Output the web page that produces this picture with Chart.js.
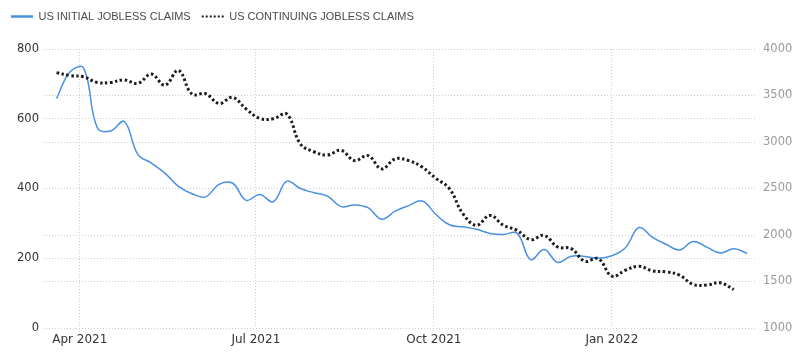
<!DOCTYPE html>
<html><head><meta charset="utf-8">
<script src="https://cdn.jsdelivr.net/npm/chart.js@4.4.1/dist/chart.umd.min.js"></script>
<style>html,body{margin:0;padding:0;background:#fff}#wrap{width:800px;height:357px;position:relative}</style>
</head><body><div id="wrap"><canvas id="c" width="800" height="357"></canvas></div>
<script>
// ---- data ----
const weekEnding = [
 '2021-03-20','2021-03-27','2021-04-03','2021-04-10','2021-04-17','2021-04-24',
 '2021-05-01','2021-05-08','2021-05-15','2021-05-22','2021-05-29',
 '2021-06-05','2021-06-12','2021-06-19','2021-06-26',
 '2021-07-03','2021-07-10','2021-07-17','2021-07-24','2021-07-31',
 '2021-08-07','2021-08-14','2021-08-21','2021-08-28',
 '2021-09-04','2021-09-11','2021-09-18','2021-09-25',
 '2021-10-02','2021-10-09','2021-10-16','2021-10-23','2021-10-30',
 '2021-11-06','2021-11-13','2021-11-20','2021-11-27',
 '2021-12-04','2021-12-11','2021-12-18','2021-12-25',
 '2022-01-01','2022-01-08','2022-01-15','2022-01-22','2022-01-29',
 '2022-02-05','2022-02-12','2022-02-19','2022-02-26',
 '2022-03-05','2022-03-12'
];
const initialClaims = [
 658,735,745,575,565,592,
 498,473,444,406,385,
 376,412,415,366,
 383,362,421,400,388,
 378,348,353,345,
 312,335,351,364,
 326,296,290,283,271,
 268,272,196,225,
 188,206,205,200,
 207,230,288,260,240,
 224,248,232,215,
 227,214
];
const continuingClaims = [
 3746,3715,3700,3640,3640,3668,
 3630,3730,3610,3770,3515,
 3520,3414,3480,3354,
 3254,3250,3300,2980,2895,
 2860,2910,2800,2854,
 2711,2818,2800,2730,
 2610,2500,2229,2104,2211,
 2104,2050,1950,1996,
 1871,1854,1718,1746,
 1557,1621,1664,1614,1604,
 1568,1468,1461,1486,
 1414
];
const seriesNames = ['US INITIAL JOBLESS CLAIMS','US CONTINUING JOBLESS CLAIMS'];
const xTickDates = ['2021-04-01','2021-07-01','2021-10-01','2022-01-01'];
const xTickLabels = ['Apr 2021','Jul 2021','Oct 2021','Jan 2022'];
const xRange = ['2021-03-13','2022-03-17'];
const leftRange = [0,800];
const leftStep = 200;
const rightRange = [1000,4000];
const rightStep = 500;

// ---- helpers ----
const DAY = 86400000;
const BASE = Date.UTC(2021,3,1);
function dayNum(s){const p=s.split('-').map(Number);return (Date.UTC(p[0],p[1]-1,p[2])-BASE)/DAY;}

const initialPts = initialClaims.map((v,i)=>({x:dayNum(weekEnding[i]),y:v}));
const continuingPts = continuingClaims.map((v,i)=>({x:dayNum(weekEnding[i]),y:v}));
const tickDays = xTickDates.map(dayNum);

const gridStyle = {color:'#cfcfcf', lineWidth:1, drawTicks:false};
const dash = [1,2];

const legendGap = {
  id:'legendGap',
  beforeInit(chart){
    const lg = chart.legend;
    if(!lg) return;
    const fit = lg.fit;
    lg.fit = function(){ fit.call(this); this.height += 17; };
  }
};

new Chart(document.getElementById('c'), {
  type:'line',
  plugins:[legendGap],
  data:{datasets:[
    {label:seriesNames[0], data:initialPts, yAxisID:'yL', borderColor:'#4a90e2',
     borderWidth:1.5, pointRadius:0, tension:0.4, fill:false, order:1},
    {label:seriesNames[1], data:continuingPts, yAxisID:'yR', borderColor:'#1c1c1c',
     borderWidth:3, borderDash:[2.5,2.5], pointRadius:0, tension:0.4, fill:false, order:0}
  ]},
  options:{
    responsive:false, animation:false, devicePixelRatio:1,
    layout:{padding:{top:0,left:0,right:0,bottom:0}},
    plugins:{
      tooltip:{enabled:false},
      legend:{display:true, position:'top', align:'start',
        labels:{usePointStyle:true, pointStyle:'line', pointStyleWidth:22, boxHeight:10,
          padding:11, color:'#4a4a4a', font:{family:'Liberation Sans', size:11},
          generateLabels:(chart)=>{
            const items = Chart.defaults.plugins.legend.labels.generateLabels(chart);
            items.sort((a,b)=>a.datasetIndex-b.datasetIndex);
            items.forEach((it)=>{
              it.pointStyle='line';
              if(it.datasetIndex===1){it.lineWidth=2; it.lineDash=[2,2];}
              else {it.lineWidth=2.5; it.lineDash=[];}
            });
            return items;
          }}
      }
    },
    scales:{
      x:{type:'linear', min:dayNum(xRange[0]), max:dayNum(xRange[1]),
        afterBuildTicks:(s)=>{s.ticks=tickDays.map(v=>({value:v}));},
        afterFit:(s)=>{s.height=29;},
        ticks:{autoSkip:false, maxRotation:0, padding:5, color:'#333',
          font:{family:'DejaVu Sans', size:12},
          callback:(v)=>{const i=tickDays.indexOf(v);return i>=0?xTickLabels[i]:'';}},
        grid:Object.assign({},gridStyle), border:{display:false, dash:dash}
      },
      yL:{type:'linear', position:'left', min:leftRange[0], max:leftRange[1],
        afterFit:(s)=>{s.width=43;},
        ticks:{stepSize:leftStep, padding:4, color:'#333', font:{family:'DejaVu Sans', size:11.5},
          callback:(v)=>String(v)},
        grid:Object.assign({},gridStyle), border:{display:false, dash:dash}
      },
      yR:{type:'linear', position:'right', min:rightRange[0], max:rightRange[1],
        afterFit:(s)=>{s.width=43;},
        ticks:{stepSize:rightStep, padding:6, color:'#9a9a9a', font:{family:'DejaVu Sans', size:11.5},
          callback:(v)=>String(v)},
        grid:Object.assign({},gridStyle), border:{display:false, dash:dash}
      }
    }
  }
});
</script>
</body></html>
